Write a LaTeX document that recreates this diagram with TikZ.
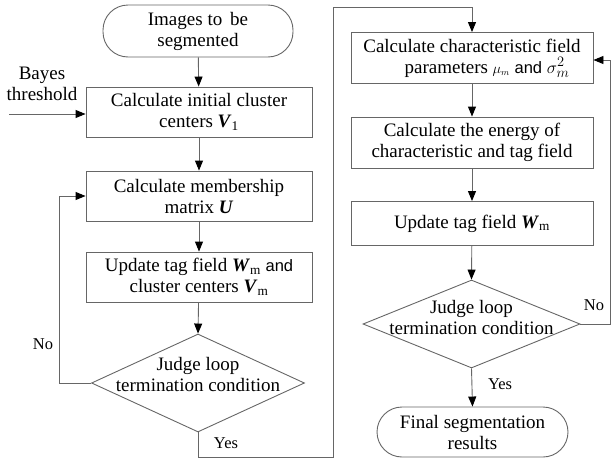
\documentclass[tikz,border=0pt]{standalone}
\usepackage{fontspec}
\setmainfont{Liberation Serif}
\newfontfamily\sansand{Liberation Sans}
\usetikzlibrary{shapes.geometric,arrows.meta}
\newcommand{\bi}[1]{\textbf{\textit{#1}}}
\newcommand{\sand}{{\sansand\fontsize{16.5}{21}\selectfont and}}
\begin{document}
\begin{tikzpicture}[x=1pt,y=-1pt,
  font=\fontsize{19}{21}\selectfont,
  ln/.style={draw=black!60, line width=0.9pt},
  arr/.style={ln, -{Triangle[length=10pt,width=8pt,color=black]}},
  box/.style={ln, rectangle, align=center, inner sep=0pt},
  term/.style={ln, rectangle, rounded corners=25pt, align=center, inner sep=0pt},
  dia/.style={ln, diamond, inner sep=0pt},
  lbl/.style={align=center, inner sep=0pt},
  small/.style={lbl, font=\fontsize{16.5}{20}\selectfont}]
\useasboundingbox (0,0) rectangle (611,458);
% left column
\node[term, minimum width=190pt, minimum height=52pt] (start) at (198,31) {Images to\, be\\segmented};
\node[box, minimum width=226pt, minimum height=50pt] (b1) at (199,112) {Calculate initial cluster\\centers \bi{V}\textsubscript{1}};
\node[box, minimum width=226pt, minimum height=50pt] (b2) at (199,196) {Calculate membership\\matrix \bi{U}};
\node[box, minimum width=226pt, minimum height=50pt] (b3) at (199,277) {Update tag field \bi{W}\textsubscript{m} \sand\\cluster centers \bi{V}\textsubscript{m}};
\node[dia, minimum width=213pt, minimum height=98pt] (d1) at (198,383) {};
\node[lbl] (d1t) at (198,374) {Judge loop\\termination condition};
% right column
\node[box, minimum width=242pt, minimum height=51pt] (r1) at (472,58) {Calculate characteristic field\\\hspace*{30pt}parameters $\scriptstyle\mu_m$ \sand{} $\sigma^2_m$};
\node[box, minimum width=242pt, minimum height=51pt] (r2) at (472,142.5) {Calculate the energy of\\characteristic and tag field};
\node[box, minimum width=242pt, minimum height=44pt] (r3) at (472,223.5) {Update tag field \bi{W}\textsubscript{m}};
\node[dia, minimum width=217pt, minimum height=88pt] (d2) at (471.5,324) {};
\node[lbl] (d2t) at (471.5,317) {Judge loop\\termination condition};
\node[term, minimum width=191pt, minimum height=50pt] (fin) at (472.5,432) {Final segmentation\\results};
% input
\node[lbl] (bayes) at (42,84) {Bayes\\threshold};
\coordinate (bin) at (9,114);
\draw[arr] (bin) -- (bin -| b1.west);
% connectors
\draw[arr] (start) -- (b1);
\draw[arr] (b1) -- (b2);
\draw[arr] (b2) -- (b3);
\draw[arr] (b3) -- (d1.north);
\coordinate (nol) at (59,383);
\draw[arr] (d1.west) -- (nol) |- (b2.west);
\node[small] (nolbl) at (43,344) {No};
\coordinate (y1) at (198,457);
\coordinate (y2) at (333,457);
\coordinate (y3) at (333,7);
\coordinate (y4) at (472,7);
\draw[arr] (d1.south) -- (y1) -- (y2) -- (y3) -- (y4) -- (r1.north);
\node[small] (yes1) at (226,443) {Yes};
\draw[arr] (r1) -- (r2);
\draw[arr] (r2) -- (r3);
\draw[arr] (r3) -- (d2.north);
\draw[arr] (d2.south) -- (fin.north);
\node[small] (yes2) at (500,384) {Yes};
\coordinate (nr1) at (610,324);
\coordinate (nr2) at (610,60);
\draw[arr] (d2.east) -- (nr1) -- (nr2) -- (nr2 -| r1.east);
\node[small] (nolbl2) at (594,305) {No};
\end{tikzpicture}
\end{document}
